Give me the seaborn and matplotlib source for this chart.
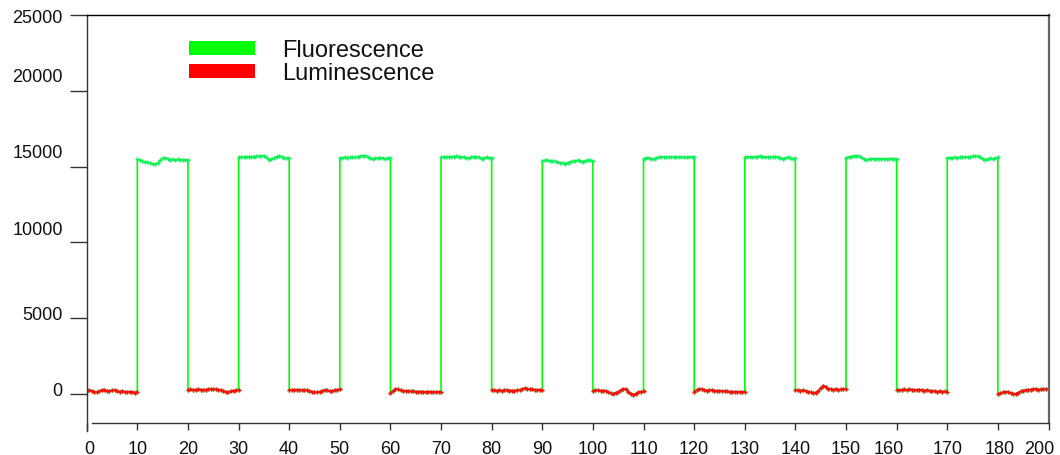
import numpy as np
import pandas as pd
import matplotlib
matplotlib.use("Agg")
import matplotlib.pyplot as plt
import matplotlib.transforms as mtransforms
from matplotlib.patches import Patch
import seaborn as sns

# ---------------- data ----------------
seg_t = np.arange(0, 10.5, 0.5)  # sample offsets inside each 10 s segment

# luminescence (light off) segments: 0-10, 20-30, ..., 180-190
lum_starts = [0, 20, 40, 60, 80, 100, 120, 140, 160, 180]
L0 = [220, 230, 200, 130, 110, 160, 250, 260, 200, 180, 230, 240, 190, 150, 180, 130, 110, 150, 120, 90, 150]
L2 = [280, 290, 270, 280, 290, 280, 270, 280, 290, 300, 310, 290, 280, 260, 200, 140, 120, 170, 220, 230, 240]
L4 = [270, 260, 280, 270, 250, 240, 260, 230, 200, 150, 110, 100, 140, 200, 260, 240, 180, 200, 240, 270, 290]
L6 = [60, 200, 330, 300, 230, 180, 200, 190, 160, 170, 150, 140, 150, 140, 130, 150, 140, 120, 130, 140, 130]
L8 = [230, 240, 220, 230, 220, 230, 240, 220, 220, 210, 230, 250, 300, 370, 350, 300, 290, 270, 260, 280, 270]
L10 = [220, 230, 240, 210, 220, 200, 120, 30, 0, 80, 120, 250, 330, 300, 150, 20, -50, 20, 100, 150, 170]
L12 = [150, 260, 330, 290, 250, 220, 240, 250, 220, 200, 210, 190, 170, 160, 140, 150, 130, 140, 120, 130, 140]
L14 = [230, 240, 220, 230, 200, 150, 100, 60, 90, 200, 400, 550, 480, 350, 300, 280, 320, 260, 300, 320, 300]
L16 = [250, 270, 260, 290, 250, 300, 280, 240, 260, 280, 240, 220, 250, 200, 180, 170, 150, 170, 140, 160, 150]
L18 = [-30, 50, 100, 150, 130, 60, 20, 0, 80, 160, 220, 250, 260, 280, 330, 300, 280, 290, 300, 310, 320]
lum_segments = [L0, L2, L4, L6, L8, L10, L12, L14, L16, L18]

# fluorescence (light on) segments: 10-20, 30-40, ..., 170-180
flu_starts = [10, 30, 50, 70, 90, 110, 130, 150, 170]
F1 = [15480, 15420, 15350, 15300, 15280, 15240, 15180, 15150, 15220, 15420, 15560, 15580, 15520, 15460, 15480, 15440, 15470, 15450, 15430, 15460, 15420]
F3 = [15620, 15620, 15620, 15640, 15640, 15650, 15660, 15680, 15680, 15700, 15720, 15600, 15450, 15480, 15560, 15640, 15720, 15650, 15560, 15540, 15560]
F5 = [15560, 15580, 15600, 15590, 15610, 15620, 15600, 15640, 15680, 15700, 15720, 15650, 15560, 15520, 15540, 15560, 15580, 15540, 15520, 15560, 15540]
F7 = [15600, 15620, 15640, 15650, 15640, 15660, 15680, 15660, 15640, 15600, 15560, 15580, 15620, 15660, 15640, 15600, 15520, 15560, 15600, 15580, 15560]
F9 = [15380, 15400, 15420, 15380, 15360, 15340, 15300, 15260, 15220, 15200, 15250, 15300, 15350, 15380, 15400, 15360, 15320, 15380, 15420, 15400, 15380]
F11 = [15500, 15560, 15580, 15520, 15480, 15560, 15620, 15640, 15620, 15600, 15620, 15640, 15620, 15600, 15620, 15640, 15620, 15600, 15620, 15640, 15620]
F13 = [15600, 15620, 15640, 15620, 15640, 15660, 15680, 15660, 15640, 15620, 15600, 15640, 15660, 15620, 15560, 15520, 15560, 15600, 15560, 15520, 15540]
F15 = [15580, 15620, 15660, 15700, 15720, 15680, 15620, 15520, 15460, 15480, 15500, 15520, 15500, 15510, 15500, 15520, 15500, 15510, 15520, 15500, 15480]
F17 = [15580, 15580, 15590, 15600, 15590, 15600, 15610, 15620, 15630, 15650, 15680, 15700, 15680, 15640, 15480, 15460, 15500, 15540, 15500, 15560, 15600]
flu_segments = [F1, F3, F5, F7, F9, F11, F13, F15, F17]

x_ticks = [0, 10, 20, 30, 40, 50, 60, 70, 80, 90, 100, 110, 120, 130, 140, 150, 160, 170, 180, 190]
x_labels = ["0", "10", "20", "30", "40", "50", "60", "70", "80", "90", "100", "110",
            "120", "130", "140", "150", "160", "170", "180", "200"]
x_label_shift_px = [3, 0, 0, 0, 0, 0, 0, 0, 0, 0, 0, 0, 0, 0, 0, 0, -8, 0, 2, -9]
y_ticks = [0, 5000, 10000, 15000, 20000, 25000]
y_labels = ["0", "5000", "10000", "15000", "20000", "25000"]
y_label_shift_px = [5, 6, 15, 16, 16, -1]   # labels sit slightly above their ticks

# ---------------- build tables ----------------
lum_rows = []
for s, vals in zip(lum_starts, lum_segments):
    lum_rows.append(pd.DataFrame({"t": s + seg_t, "v": vals, "seg": s}))
lum_df = pd.concat(lum_rows, ignore_index=True)

all_segments = sorted(
    [(s, v) for s, v in zip(lum_starts, lum_segments)] +
    [(s, v) for s, v in zip(flu_starts, flu_segments)],
    key=lambda p: p[0])
flu_df = pd.concat([pd.DataFrame({"t": s + seg_t, "v": v}) for s, v in all_segments],
                   ignore_index=True)

# ---------------- figure ----------------
sns.set_style("white")
plt.rcParams["font.family"] = ["Liberation Sans", "DejaVu Sans"]

W, H = 1060, 456
fig = plt.figure(figsize=(W / 100, H / 100), dpi=100)
left, right, top, bottom = 86.7, 1048.5, 16, 432
ax = fig.add_axes([left / W, 1 - bottom / H, (right - left) / W, (bottom - top) / H])

sns.lineplot(data=flu_df, x="t", y="v", estimator=None, sort=False, ax=ax,
             color="#00ff00", linewidth=1.2, marker="+", markersize=3,
             markeredgewidth=1.0, markeredgecolor="#10f060")
for s in lum_starts:
    sub = lum_df[lum_df["seg"] == s]
    sns.lineplot(data=sub, x="t", y="v", estimator=None, sort=False, ax=ax,
                 color="#ff0000", linewidth=1.2, marker="+", markersize=3,
                 markeredgewidth=1.0, markeredgecolor="#ff1010")

ax.set_xlim(0, 190)
ax.set_ylim(-2450, 25000)
ax.set_xlabel("")
ax.set_ylabel("")

ax.spines["left"].set_color("#333333")
ax.spines["left"].set_linewidth(1.0)
ax.spines["top"].set_color("#000000")
ax.spines["top"].set_linewidth(1.0)
ax.spines["right"].set_color("#666666")
ax.spines["right"].set_linewidth(1.6)
ax.spines["right"].set_bounds(-1950, 25000)
ax.spines["bottom"].set_position(("data", -1950))
ax.spines["bottom"].set_color("#333333")
ax.spines["bottom"].set_linewidth(1.0)
ax.spines["bottom"].set_bounds(1.05, 190)
ax.grid(False)

ax.set_xticks(x_ticks)
ax.set_xticklabels(x_labels)
ax.set_yticks(y_ticks)
ax.set_yticklabels(y_labels)

ax.tick_params(axis="x", direction="out", length=5.2, width=1.0, color="#333333",
               labelsize=13, pad=6.5, bottom=True, labelcolor="#111111")
ax.tick_params(axis="y", direction="out", length=12.2, width=1.0, color="#333333",
               labelsize=13, pad=5, left=True, labelcolor="#111111")

for lab, dy in zip(ax.get_yticklabels(), y_label_shift_px):
    off = mtransforms.ScaledTranslation(0, dy / 100, fig.dpi_scale_trans)
    lab.set_transform(lab.get_transform() + off)
for lab, dx in zip(ax.get_xticklabels(), x_label_shift_px):
    off = mtransforms.ScaledTranslation(dx / 100, 0, fig.dpi_scale_trans)
    lab.set_transform(lab.get_transform() + off)

handles = [Patch(facecolor="#00ff00", edgecolor="none"),
           Patch(facecolor="#ff0000", edgecolor="none")]
leg = fig.legend(handles, ["Fluorescence", "Luminescence"],
                 loc="upper left", bbox_to_anchor=(189 / W, 1 - 40 / H),
                 bbox_transform=fig.transFigure, frameon=False,
                 fontsize=17, handlelength=2.8, handleheight=0.55,
                 handletextpad=1.14, labelspacing=0.05, borderpad=0,
                 borderaxespad=0)
for txt in leg.get_texts():
    txt.set_color("#111111")

fig.savefig("out.png", dpi=100)
